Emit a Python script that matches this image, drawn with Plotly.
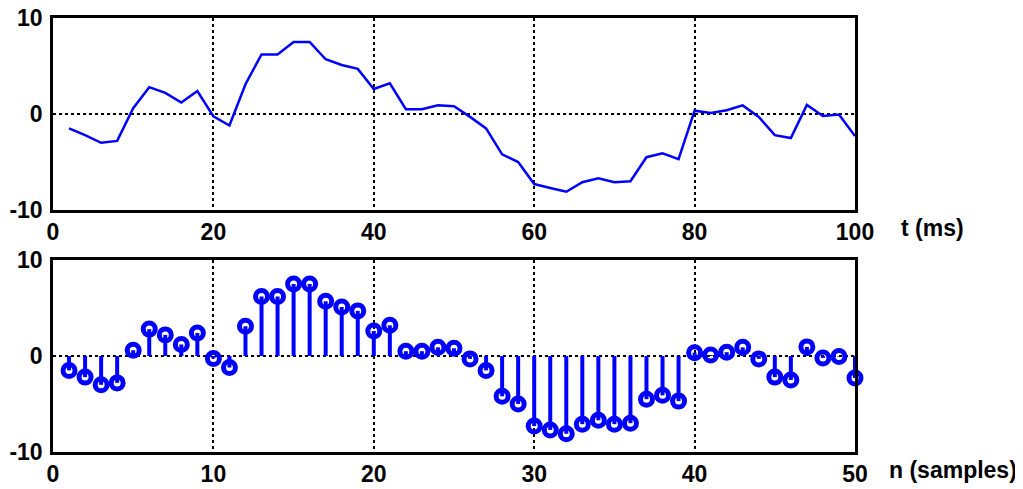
import plotly.graph_objects as go

# sample index and values
n = list(range(1, 51))
x_n = [-1.5, -2.2, -3.0, -2.8, 0.6, 2.8, 2.2, 1.2, 2.4, -0.25,
       -1.2, 3.1, 6.2, 6.2, 7.5, 7.5, 5.7, 5.1, 4.7, 2.6,
       3.2, 0.5, 0.5, 0.9, 0.8, -0.3, -1.5, -4.2, -5.0, -7.3,
       -7.7, -8.1, -7.1, -6.7, -7.1, -7.0, -4.5, -4.1, -4.7, 0.35,
       0.1, 0.4, 0.9, -0.3, -2.2, -2.5, 0.95, -0.2, -0.05, -2.3]
Ts_ms = 2  # sampling period in ms
t_ms = [k * Ts_ms for k in n]

top_xticks = [0, 20, 40, 60, 80, 100]
bot_xticks = [0, 10, 20, 30, 40, 50]
yticks = [-10, 0, 10]
ytick_text = ["-10", "0", "10"]

blue = "#0000ff"
font = dict(family="Arial, Liberation Sans, sans-serif", size=23, color="black",
            weight="bold")

fig = go.Figure()

# top: continuous-time signal
fig.add_trace(go.Scatter(x=t_ms, y=x_n, mode="lines",
                         line=dict(color=blue, width=2.5),
                         xaxis="x", yaxis="y", showlegend=False))

# bottom: stem plot
sx, sy = [], []
for k, v in zip(n, x_n):
    sx += [k, k, None]
    sy += [0, v, None]
fig.add_trace(go.Scatter(x=sx, y=sy, mode="lines",
                         line=dict(color=blue, width=4),
                         xaxis="x2", yaxis="y2", showlegend=False,
                         cliponaxis=False))
fig.add_trace(go.Scatter(x=n, y=x_n, mode="markers",
                         marker=dict(symbol="circle-open", size=12, color=blue,
                                     line=dict(color=blue, width=5)),
                         xaxis="x2", yaxis="y2", showlegend=False,
                         cliponaxis=False))

axis_common = dict(showline=True, mirror=True, linecolor="black", linewidth=2.5,
                   showgrid=True, gridcolor="black", griddash="dot", gridwidth=1.5,
                   zeroline=False, ticks="", tickfont=font, automargin=False,
                   ticklabeloverflow="allow")

fig.update_layout(
    width=1023, height=489,
    margin=dict(l=45, r=176, t=10, b=45, autoexpand=False),
    paper_bgcolor="white", plot_bgcolor="white",
    xaxis=dict(axis_common, range=[0, 100], tickvals=top_xticks,
               domain=[0, 1], anchor="y", ticklabelstandoff=0),
    yaxis=dict(axis_common, range=[-10, 10], tickvals=yticks, ticktext=ytick_text,
               domain=[0.5576, 1], anchor="x", ticklabelstandoff=3),
    xaxis2=dict(axis_common, range=[0, 50], tickvals=bot_xticks,
                domain=[0, 1], anchor="y2", ticklabelstandoff=0),
    yaxis2=dict(axis_common, range=[-10, 10], tickvals=yticks, ticktext=ytick_text,
                domain=[0, 0.4424], anchor="x2", ticklabelstandoff=3),
    annotations=[
        dict(text="t (ms)", xref="paper", yref="paper", x=1.055, y=0.5576,
             xanchor="left", yanchor="top", yshift=-3, showarrow=False, font=font),
        dict(text="n (samples)", xref="paper", yref="paper", x=1.04, y=0,
             xanchor="left", yanchor="top", yshift=-3, showarrow=False, font=font),
    ],
)

fig.write_html("out.html")
